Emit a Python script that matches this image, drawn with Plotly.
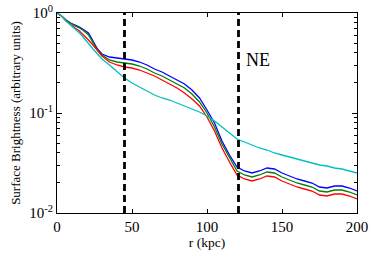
import plotly.graph_objects as go
import numpy as np

r_kpc = [0, 3, 6, 9, 12, 15, 18, 21, 24, 27, 30, 35, 40, 45, 50, 55, 60, 65, 70, 75,
         80, 85, 90, 95, 100, 105, 110, 115, 120, 125, 130, 135, 140, 145, 150, 155,
         160, 165, 170, 175, 180, 185, 190, 195, 200]

log_sb_blue = [0, -0.03, -0.07, -0.10, -0.12, -0.14, -0.17, -0.20, -0.28, -0.36, -0.41,
               -0.44, -0.45, -0.46, -0.47, -0.49, -0.52, -0.56, -0.59, -0.63, -0.67, -0.71,
               -0.77, -0.85, -0.97, -1.10, -1.28, -1.42, -1.54, -1.58, -1.60, -1.58, -1.55,
               -1.56, -1.60, -1.63, -1.66, -1.68, -1.70, -1.74, -1.75, -1.73, -1.73, -1.75, -1.78]

log_sb_green = [0, -0.03, -0.07, -0.10, -0.13, -0.15, -0.18, -0.22, -0.30, -0.37, -0.42,
                -0.47, -0.49, -0.50, -0.51, -0.53, -0.56, -0.60, -0.63, -0.67, -0.71, -0.75,
                -0.81, -0.89, -1.00, -1.14, -1.31, -1.45, -1.58, -1.62, -1.64, -1.62, -1.59,
                -1.60, -1.64, -1.67, -1.70, -1.72, -1.74, -1.78, -1.79, -1.77, -1.77, -1.79, -1.82]

log_sb_red = [0, -0.03, -0.08, -0.12, -0.15, -0.18, -0.22, -0.27, -0.32, -0.38, -0.43,
              -0.49, -0.52, -0.54, -0.55, -0.57, -0.60, -0.63, -0.67, -0.71, -0.75, -0.80,
              -0.86, -0.93, -1.04, -1.18, -1.35, -1.49, -1.62, -1.66, -1.68, -1.66, -1.63,
              -1.64, -1.68, -1.71, -1.74, -1.76, -1.78, -1.82, -1.83, -1.81, -1.81, -1.83, -1.86]

log_sb_cyan = [0, -0.03, -0.08, -0.12, -0.15, -0.20, -0.25, -0.31, -0.36, -0.41, -0.46,
               -0.52, -0.59, -0.65, -0.70, -0.74, -0.78, -0.82, -0.85, -0.87, -0.90, -0.93,
               -0.96, -0.99, -1.03, -1.08, -1.14, -1.20, -1.26, -1.29, -1.32, -1.35, -1.37,
               -1.40, -1.42, -1.44, -1.46, -1.48, -1.50, -1.52, -1.53, -1.55, -1.56, -1.58, -1.60]

dashed_r = [45, 121]
label_text = "NE"
label_r = 124.5
label_sb = 0.34

x_ticks = [0, 50, 100, 150, 200]
y_tickvals = [0.01, 0.1, 1]
y_ticktext = ["10<sup>-2</sup>", "10<sup>-1</sup>", "10<sup>0</sup>"]
y_minor = [m * 10.0**e for e in (-2, -1) for m in range(2, 10)]

series = [
    (log_sb_blue, "#0000ff"),
    (log_sb_green, "#008000"),
    (log_sb_red, "#ff0000"),
    (log_sb_cyan, "#00bfbf"),
]

FONT = "'Liberation Serif', 'Times New Roman', serif"

fig = go.Figure()
for vals, col in series:
    fig.add_trace(go.Scatter(x=r_kpc, y=[10.0**v for v in vals], mode="lines",
                             line=dict(color=col, width=1.3), showlegend=False))

for xr in dashed_r:
    fig.add_trace(go.Scatter(x=[xr, xr], y=[0.01, 1], mode="lines",
                             line=dict(color="black", width=2.8, dash="7px,4px"),
                             showlegend=False))

fig.add_annotation(x=label_r, y=np.log10(label_sb), text=label_text, showarrow=False,
                   xanchor="left", yanchor="middle",
                   font=dict(family=FONT, size=18, color="black"))

fig.update_layout(
    width=374, height=254,
    margin=dict(l=57, r=17, t=13, b=41),
    paper_bgcolor="white", plot_bgcolor="white",
    font=dict(family=FONT, size=15, color="black"),
)
fig.update_xaxes(range=[0, 200], tickvals=x_ticks, ticks="inside", ticklen=4,
                 tickcolor="black", showgrid=False, zeroline=False, automargin=False,
                 showline=True, linecolor="black", linewidth=1, mirror="allticks",
                 title=dict(text="r (kpc)", font=dict(size=13.5), standoff=3),
                 tickfont=dict(size=15))
fig.update_yaxes(type="log", range=[-2, 0], tickvals=y_tickvals, ticktext=y_ticktext,
                 ticks="inside", ticklen=5, tickcolor="black", showgrid=False,
                 zeroline=False, showline=True, linecolor="black", linewidth=1,
                 mirror="allticks", automargin=False,
                 minor=dict(tickmode="array", tickvals=y_minor, ticks="inside",
                            ticklen=3, tickcolor="black", showgrid=False),
                 title=dict(text="Surface Brightness (arbitrary units)",
                            font=dict(size=13), standoff=5),
                 tickfont=dict(size=15))

fig.write_html("out.html", config={"displayModeBar": False},
               post_script="document.body.style.margin='0px';document.body.style.padding='0px';")
